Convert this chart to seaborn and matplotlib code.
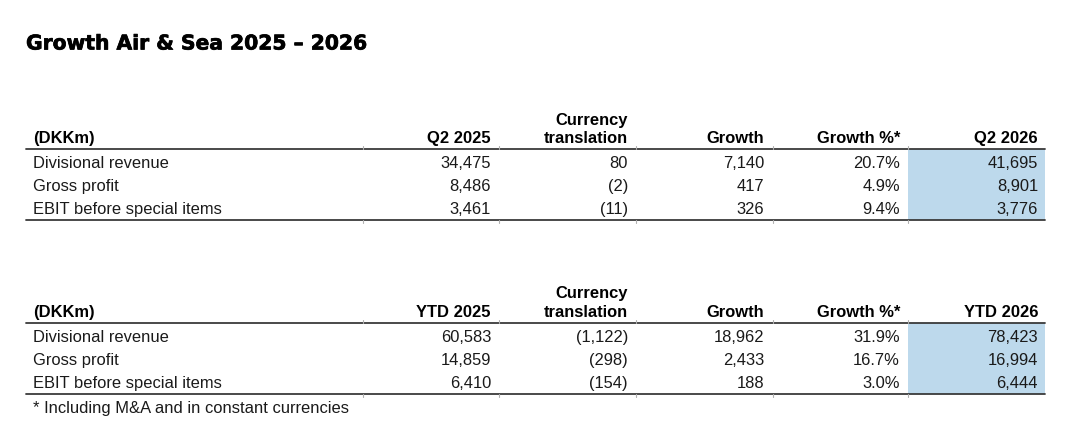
import matplotlib
matplotlib.use("Agg")
import matplotlib.pyplot as plt
import matplotlib.patheffects as pe
import seaborn as sns

title = "Growth Air & Sea 2025 \u2013 2026"
row_labels = ["Divisional revenue", "Gross profit", "EBIT before special items"]

q2_headers = ["Q2 2025", "Currency\ntranslation", "Growth", "Growth %*", "Q2 2026"]
q2_2025 = [34475, 8486, 3461]
q2_fx = [80, -2, -11]
q2_growth = [7140, 417, 326]
q2_growth_pct = [20.7, 4.9, 9.4]
q2_2026 = [41695, 8901, 3776]

ytd_headers = ["YTD 2025", "Currency\ntranslation", "Growth", "Growth %*", "YTD 2026"]
ytd_2025 = [60583, 14859, 6410]
ytd_fx = [-1122, -298, -154]
ytd_growth = [18962, 2433, 188]
ytd_growth_pct = [31.9, 16.7, 3.0]
ytd_2026 = [78423, 16994, 6444]

footnote = "* Including M&A and in constant currencies"


def fmt_num(v):
    return f"({abs(v):,})" if v < 0 else f"{v:,}"


def fmt_pct(v):
    return f"{v:.1f}%"


sns.set_theme(style="white")
plt.rcParams["font.family"] = ["Liberation Sans", "DejaVu Sans"]

fig = plt.figure(figsize=(10.8, 4.35), dpi=100)
ax = fig.add_axes([0, 0, 1, 1])
ax.set_xlim(0, 1080)
ax.set_ylim(435, 0)
ax.axis("off")

# layout (pixels)
x_left, x_right = 26, 1045
label_x = 33
col_right = [491, 628, 764, 900, 1038]
separators = [363, 499, 636, 773, 908]
blue_left = 908
line_col = "#3a3a3a"
text_col = "#1a1a1a"
fs = 11.9

ax.text(26, 45, title, fontsize=14.6, fontweight="bold", color="black",
        va="center", ha="left", family="DejaVu Sans",
        path_effects=[pe.withStroke(linewidth=0.5, foreground="black")])


def draw_table(top_line, headers, columns, fmts):
    row_y = [top_line + 14, top_line + 37, top_line + 60]
    bottom_line = top_line + 71
    # highlighted last column
    ax.fill_between([blue_left, x_right], top_line, bottom_line,
                    color="#bdd9ec", lw=0, zorder=0)
    ax.plot([x_left, x_right], [top_line, top_line], color=line_col, lw=1.3)
    ax.plot([x_left, x_right], [bottom_line, bottom_line], color=line_col, lw=1.3)
    for sx in separators:
        ax.plot([sx, sx], [top_line - 3, top_line], color="#b0b0b0", lw=0.8)
        ax.plot([sx, sx], [bottom_line, bottom_line + 3], color="#b0b0b0", lw=0.8)
    head_y = top_line - 11
    ax.text(label_x, head_y, "(DKKm)", fontsize=fs, fontweight="bold",
            color="black", va="center", ha="left")
    for xr, h in zip(col_right, headers):
        lines = h.split("\n")
        for k, part in enumerate(reversed(lines)):
            ax.text(xr, head_y - 19 * k, part, fontsize=fs, fontweight="bold",
                    color="black", va="center", ha="right")
    for i, y in enumerate(row_y):
        ax.text(label_x, y, row_labels[i], fontsize=fs, color=text_col,
                va="center", ha="left")
        for xr, col, f in zip(col_right, columns, fmts):
            ax.text(xr, y, f(col[i]), fontsize=fs, color=text_col,
                    va="center", ha="right")
    return bottom_line


fmts = [fmt_num, fmt_num, fmt_num, fmt_pct, fmt_num]
draw_table(150, q2_headers, [q2_2025, q2_fx, q2_growth, q2_growth_pct, q2_2026], fmts)
bottom = draw_table(324, ytd_headers,
                    [ytd_2025, ytd_fx, ytd_growth, ytd_growth_pct, ytd_2026], fmts)

ax.text(label_x, bottom + 14, footnote, fontsize=fs, color=text_col,
        va="center", ha="left")

fig.savefig("out.png", dpi=100, facecolor="white")
